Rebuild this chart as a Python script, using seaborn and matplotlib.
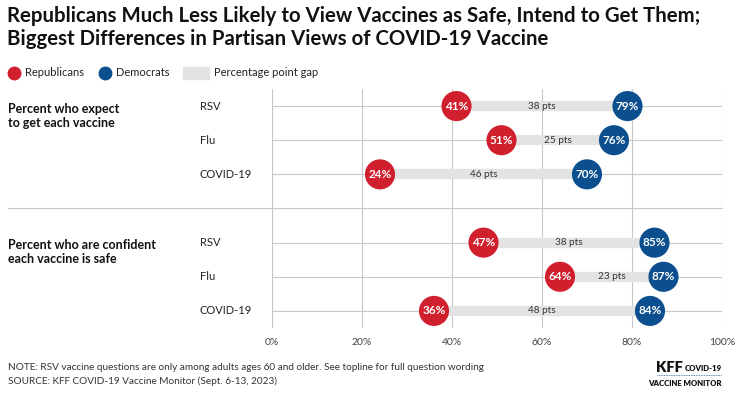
import matplotlib.pyplot as plt
import seaborn as sns
import pandas as pd

# values
vaccines = ['RSV', 'Flu', 'COVID-19', 'RSV', 'Flu', 'COVID-19']
groups = ['Percent who expect\nto get each vaccine', 'Percent who are confident\neach vaccine is safe']
republicans = [41, 51, 24, 47, 64, 36]
democrats = [79, 76, 70, 85, 87, 84]
row_pos = [0, 1, 2, 4, 5, 6]
ticks = [0, 20, 40, 60, 80, 100]

RED = '#d0202e'
BLUE = '#0b4f8e'
GAP = '#e3e3e3'
W, H = 739, 394


def fx(px):
    return px / W


def fy(px):
    return 1 - px / H


def make_chart():
    sns.set_theme(style="white")
    plt.rcParams['font.family'] = ['Lato', 'DejaVu Sans']

    df = pd.DataFrame({'row': row_pos, 'vaccine': vaccines,
                       'Republicans': republicans, 'Democrats': democrats})
    long = df.melt(id_vars=['row', 'vaccine'], value_vars=['Republicans', 'Democrats'],
                   var_name='party', value_name='pct')

    fig = plt.figure(figsize=(W / 100, H / 100), dpi=100)
    ax = fig.add_axes([fx(272), fy(328), fx(722 - 272), (328 - 89) / H])

    # grid
    for t in ticks:
        ax.axvline(t, color='#c8c8c8', lw=0.8, zorder=0)
    for r in row_pos:
        ax.axhline(r, color='#c8c8c8', lw=0.8, zorder=0)

    # gap bars
    ax.hlines(df['row'], df['Republicans'], df['Democrats'], color=GAP, lw=7.5, zorder=1)
    for _, d in df.iterrows():
        ax.text((d['Republicans'] + d['Democrats']) / 2, d['row'],
                f"{d['Democrats'] - d['Republicans']} pts",
                ha='center', va='center', fontsize=7.2, color='#333333', zorder=2)

    sns.scatterplot(data=long, x='pct', y='row', hue='party',
                    palette={'Republicans': RED, 'Democrats': BLUE},
                    s=470, edgecolor='none', legend=False, zorder=3, ax=ax)
    for _, d in long.iterrows():
        ax.text(d['pct'], d['row'], f"{d['pct']}%", ha='center', va='center',
                fontsize=8.5, color='white', fontweight='bold', zorder=4)

    ax.set_xlim(0, 100)
    ax.set_ylim(6.5, -0.5)
    ax.set_xticks(ticks)
    ax.set_xticklabels([f'{t}%' for t in ticks], fontsize=7.5, color='#444444')
    ax.set_yticks([])
    ax.set_xlabel('')
    ax.set_ylabel('')
    ax.tick_params(axis='x', length=0, pad=7)
    for s in ax.spines.values():
        s.set_visible(False)

    # row labels, placed in figure x but data y
    row_tf = plt.matplotlib.transforms.blended_transform_factory(fig.transFigure, ax.transData)
    for r, v in zip(row_pos, vaccines):
        ax.text(fx(200), r, v, transform=row_tf, ha='left', va='center',
                fontsize=8, color='#222222')

    # section labels
    fig.text(fx(8), fy(116), groups[0], ha='left', va='center', fontsize=9,
             fontweight='bold', color='#111111', linespacing=1.25)
    fig.text(fx(8), fy(252), groups[1], ha='left', va='center', fontsize=9,
             fontweight='bold', color='#111111', linespacing=1.25)
    # separator line across whole width
    fig.add_artist(plt.Line2D([fx(8), fx(722)], [fy(208)] * 2, color='#c8c8c8', lw=0.8))

    # title
    fig.text(fx(7), fy(27.5), 'Republicans Much Less Likely to View Vaccines as Safe, Intend to Get Them;\n'
             'Biggest Differences in Partisan Views of COVID-19 Vaccine',
             ha='left', va='center', fontsize=14.7, fontweight='bold', color='#111111',
             linespacing=1.2)

    # legend
    ly = fy(73)
    fig.add_artist(plt.Line2D([fx(14)], [ly], marker='o', ms=9, color=RED, ls=''))
    fig.text(fx(25), ly, 'Republicans', va='center', fontsize=8, color='#222222')
    fig.add_artist(plt.Line2D([fx(105)], [ly], marker='o', ms=9, color=BLUE, ls=''))
    fig.text(fx(116), ly, 'Democrats', va='center', fontsize=8, color='#222222')
    fig.add_artist(plt.Rectangle((fx(183), fy(79)), fx(26), 12 / H,
                                 color=GAP, transform=fig.transFigure))
    fig.text(fx(214), ly, 'Percentage point gap', va='center', fontsize=8, color='#222222')

    # footer
    fig.text(fx(8), fy(368), 'NOTE: RSV vaccine questions are only among adults ages 60 and older. '
             'See topline for full question wording', va='center', fontsize=7.2, color='#333333')
    fig.text(fx(8), fy(381), 'SOURCE: KFF COVID-19 Vaccine Monitor (Sept. 6-13, 2023)',
             va='center', fontsize=7.2, color='#333333')
    fig.text(fx(656), fy(367), 'KFF', va='center', fontsize=10.5, fontweight='heavy', color='#111111')
    fig.text(fx(722), fy(368.5), 'COVID-19', va='center', ha='right', fontsize=5.6,
             fontweight='heavy', color='#111111')
    fig.add_artist(plt.Line2D([fx(657), fx(722)], [fy(375)] * 2, color='#2a5b8f',
                              lw=0.6, ls=(0, (1, 1))))
    fig.text(fx(722), fy(383), 'VACCINE MONITOR', va='center', ha='right', fontsize=5.6,
             fontweight='heavy', color='#111111')

    fig.savefig('out.png', dpi=100)


if __name__ == "__main__":
    make_chart()
